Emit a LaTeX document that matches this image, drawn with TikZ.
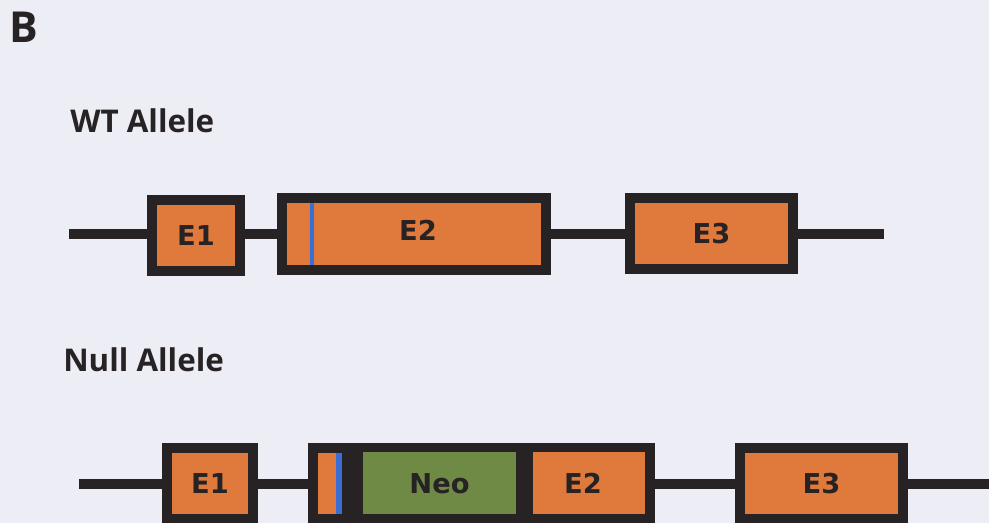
\documentclass[tikz,border=0pt]{standalone}
\usepackage{fontspec}
\setmainfont{Open Sans}
\newfontfamily\lblfont{DejaVu Sans}
\definecolor{bg}{HTML}{EDEDF5}
\definecolor{exon}{HTML}{E07A3C}
\definecolor{neogreen}{HTML}{6F8A45}
\definecolor{ink}{HTML}{272224}
\definecolor{blueline}{HTML}{3A6ED4}
\tikzset{
  exonbox/.style={draw=ink, fill=exon, line width=7.5pt, inner sep=0pt,
    font=\lblfont\bfseries\fontsize{20.5}{22}\selectfont, text=ink},
  bigbox/.style={draw=ink, fill=ink, line width=7.5pt, inner sep=0pt},
  fillrect/.style={inner sep=0pt, outer sep=0pt, minimum height=46.5pt},
  lbl/.style={font=\lblfont\bfseries\fontsize{20.5}{22}\selectfont, text=ink, inner sep=0pt},
  heading/.style={font=\bfseries\fontsize{23.5}{26}\selectfont, text=ink, anchor=base west, inner sep=0pt},
  gene/.style={draw=ink, line width=7.5pt}
}
\begin{document}
\begin{tikzpicture}[x=0.75pt, y=-0.75pt]
\useasboundingbox[fill=bg] (0,0) rectangle (989,523);
% panel letter and headings
\node[heading, font=\bfseries\fontsize{32}{34}\selectfont] (B) at (9,43) {B};
\node[heading] (wt) at (70,133) {WT Allele};
\node[heading] (null) at (63,372) {Null Allele};

% WT allele
\coordinate (wtL) at (69,234);
\coordinate (wtR) at (884,234);
\draw[gene] (wtL) -- (wtR);
\node[exonbox, minimum width=66pt, minimum height=53.25pt] (we1) at (196,235.5) {E1};
\node[exonbox, minimum width=198pt, minimum height=54pt] (we2) at (414,234) {};
\node[lbl] (we2l) at (418,230) {E2};
\fill[blueline] (309.5,203) rectangle (313.5,265);
\node[exonbox, minimum width=122.25pt, minimum height=53.25pt] (we3) at (711.5,233.5) {E3};

% Null allele
\coordinate (nL) at (79,484.5);
\coordinate (nR) at (989,484.5);
\draw[gene] (nL) -- (nR);
\node[exonbox, minimum width=64.5pt, minimum height=53.25pt] (ne1) at (210,483.5) {E1};
\node[bigbox, minimum width=252.75pt, minimum height=53.25pt] (nbig) at (481.5,483.5) {};
\fill[exon] (318,453) rectangle (336,514);
\fill[blueline] (336,453) rectangle (342,514);
\node[fillrect, fill=neogreen, minimum width=114.75pt] (neo) at (439.5,483.5) {};
\node[lbl] (neol) at (439.5,483.5) {Neo};
\node[fillrect, fill=exon, minimum width=84pt] (ne2) at (589,483.5) {};
\node[lbl] (ne2l) at (583,483.5) {E2};
\node[exonbox, minimum width=122.25pt, minimum height=53.25pt] (ne3) at (821.5,483.5) {E3};
\end{tikzpicture}
\end{document}
